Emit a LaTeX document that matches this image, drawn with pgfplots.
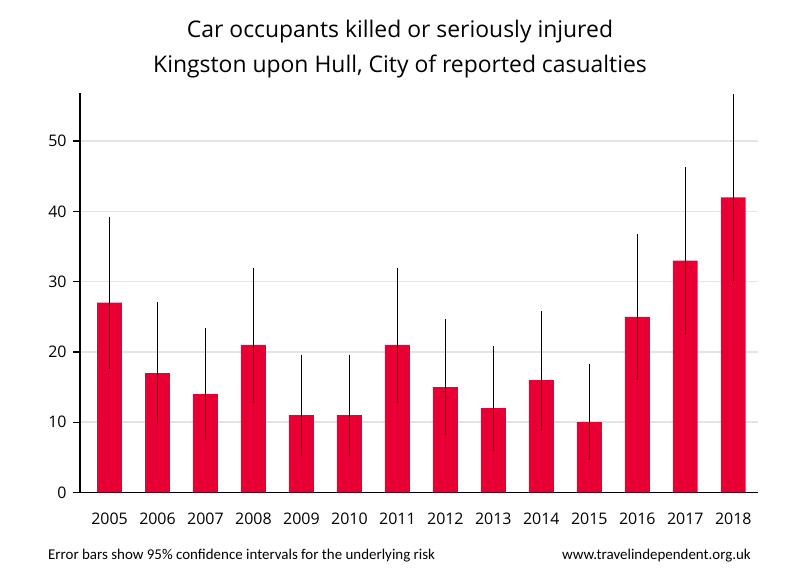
\documentclass[border=0pt]{standalone}
\usepackage{pgfplots}
\pgfplotsset{compat=1.18}
\usepackage{pgfplotstable}
\usepackage{fontspec}
\setmainfont{Open Sans}
\newfontfamily\footfont{Carlito}
\definecolor{barred}{RGB}{232,0,52}
\definecolor{gridgray}{RGB}{228,228,228}
\pgfplotstableread{
x y ep em
2005 27 12.2 9.4
2006 17 10.1 7.2
2007 14 9.4 6.5
2008 21 10.9 8.2
2009 11 8.6 5.8
2010 11 8.6 5.8
2011 21 10.9 8.2
2012 15 9.7 6.8
2013 12 8.8 6.1
2014 16 9.8 7.1
2015 10 8.3 5.4
2016 25 11.8 9.0
2017 33 13.3 10.5
2018 42 14.7 11.9
}\datatable
\begin{document}
\begin{tikzpicture}[x=1bp,y=1bp]
\useasboundingbox (0,0) rectangle (800,580);
\begin{axis}[
  at={(80bp,87.5bp)}, anchor=south west,
  scale only axis, width=677.7bp, height=399.2bp,
  xmin=2004.385, xmax=2018.51,
  ymin=0, ymax=56.8,
  axis lines=left,
  axis line style={-, black, line width=1.6bp},
  xtick=data,
  x tick label style={/pgf/number format/1000 sep=, font=\fontsize{16}{18}\selectfont, yshift=-10bp},
  xtick style={draw=none},
  ytick={0,10,20,30,40,50},
  y tick label style={font=\fontsize{16}{18}\selectfont, xshift=-3bp},
  ytick style={black, line width=1.2bp},
  tick align=outside,
  major tick length=7bp,
  ytick pos=left,
  /pgf/number format/assume math mode=true,
  ymajorgrids,
  major grid style={gridgray, line width=1.6bp},
]
\addplot[ybar, bar width=0.52, fill=barred, draw=none,
  error bars/.cd, y dir=both, y explicit, error mark=none,
  error bar style={black, line width=1bp}]
  table[x=x, y=y, y error plus=ep, y error minus=em] {\datatable};
\end{axis}
\node[anchor=base, font=\fontsize{23}{26}\selectfont] at (400,580-38) {Car occupants killed or seriously injured};
\node[anchor=base, font=\fontsize{23}{26}\selectfont] at (400,580-73) {Kingston upon Hull, City of reported casualties};
\node[anchor=base west, inner sep=0pt, font=\footfont\fontsize{15}{17}\selectfont] at (48,580-560) {Error bars show 95\% confidence intervals for the underlying risk};
\node[anchor=base east, inner sep=0pt, font=\footfont\fontsize{15}{17}\selectfont] at (751,580-560) {www.travelindependent.org.uk};
\end{tikzpicture}
\end{document}
